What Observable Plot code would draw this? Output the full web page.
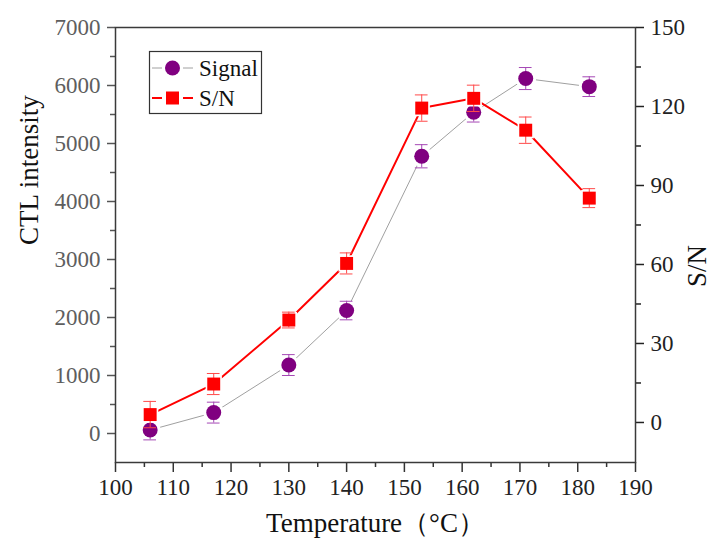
<!DOCTYPE html>
<html>
<head>
<meta charset="utf-8">
<script src="https://cdn.jsdelivr.net/npm/d3@7"></script>
<script src="https://cdn.jsdelivr.net/npm/@observablehq/plot@0.6"></script>
<style>
  html, body { margin: 0; padding: 0; background: #fff; }
  #wrap { position: relative; width: 711px; height: 548px; }
  #legend { position: absolute; left: 0; top: 0; }
  svg, svg text { font-family: "Liberation Serif", "Times New Roman", "DejaVu Serif", serif !important; }
</style>
</head>
<body>
<div id="wrap"></div>
<script>
const temps = [106, 117, 130, 140, 153, 162, 171, 182];
const signal = [60, 360, 1180, 2120, 4780, 5540, 6120, 5980];
const signalErr = [170, 180, 180, 160, 200, 170, 190, 170];
const snRatio = [3, 14.6, 38.9, 60.4, 119.4, 123.1, 111, 85.2];
const snErr = [5, 4, 3, 4, 5, 5, 5, 3.6];

const xTicks = [100, 110, 120, 130, 140, 150, 160, 170, 180, 190];
const xMinor = [105, 115, 125, 135, 145, 155, 165, 175, 185];
const leftTicks = [0, 1000, 2000, 3000, 4000, 5000, 6000, 7000];
const leftMinor = [500, 1500, 2500, 3500, 4500, 5500, 6500];
const rightTicks = [0, 30, 60, 90, 120, 150];
const rightMinor = [15, 45, 75, 105, 135];

const leftDomain = [-500, 7000];
const rightDomain = [-15.2, 150];
const toLeft = v => leftDomain[0] + (v - rightDomain[0]) * (leftDomain[1] - leftDomain[0]) / (rightDomain[1] - rightDomain[0]);

const sigRows = temps.map((t, i) => ({t, v: signal[i], lo: signal[i] - signalErr[i], hi: signal[i] + signalErr[i]}));
const snRows = temps.map((t, i) => ({t, v: toLeft(snRatio[i]), lo: toLeft(snRatio[i] - snErr[i]), hi: toLeft(snRatio[i] + snErr[i])}));

const PURPLE = "#800080", PURPLE_ERR = "#a548b5", RED = "#ff0000", RED_ERR = "#ff4a4a", GRAY = "#a0a0a0";
const capHalf = 1.1;
const FONT = "'Liberation Serif', 'Times New Roman', 'DejaVu Serif', serif";

function errMarks(rows, color) {
  return [
    Plot.ruleX(rows, {x: "t", y1: "lo", y2: "hi", stroke: color, strokeWidth: 1}),
    Plot.ruleY(rows, {y: "lo", x1: d => d.t - capHalf, x2: d => d.t + capHalf, stroke: color, strokeWidth: 1}),
    Plot.ruleY(rows, {y: "hi", x1: d => d.t - capHalf, x2: d => d.t + capHalf, stroke: color, strokeWidth: 1})
  ];
}

const chart = Plot.plot({
  width: 711,
  height: 548,
  marginLeft: 115,
  marginRight: 76,
  marginTop: 27,
  marginBottom: 86,
  style: {fontFamily: FONT, background: "#fff", overflow: "visible"},
  x: {domain: [100, 190]},
  y: {domain: leftDomain},
  marks: [
    Plot.axisX(xTicks, {anchor: "bottom", tickSize: 10, tickPadding: 6, fontSize: 23, color: "#222", stroke: "#333", strokeWidth: 1.5, tickFormat: d => String(d), label: null}),
    Plot.axisX(xMinor, {anchor: "bottom", tickSize: 5, tickFormat: () => "", stroke: "#333", strokeWidth: 1.5, label: null}),
    Plot.axisY(leftTicks, {anchor: "left", tickSize: 8, tickPadding: 7, fontSize: 23, color: "#5e5e5e", stroke: "#555", strokeWidth: 1.5, tickFormat: d => String(d), label: null}),
    Plot.axisY(leftMinor, {anchor: "left", tickSize: 5, tickFormat: () => "", stroke: "#555", strokeWidth: 1.5, label: null}),
    Plot.axisY(rightTicks.map(toLeft), {anchor: "right", tickSize: 8, tickPadding: 7, fontSize: 23, color: "#222", stroke: "#222", strokeWidth: 1.5, tickFormat: (d, i) => String(rightTicks[i]), label: null}),
    Plot.axisY(rightMinor.map(toLeft), {anchor: "right", tickSize: 5, tickFormat: () => "", stroke: "#222", strokeWidth: 1.5, label: null}),
    Plot.frame({stroke: "#3a3a3a", strokeWidth: 1.5}),
    Plot.text(["CTL intensity"], {frameAnchor: "left", text: d => d, rotate: -90, dx: -86, fontSize: 27, fill: "#111"}),
    Plot.text(["S/N"], {frameAnchor: "right", text: d => d, rotate: -90, dx: 62, fontSize: 27, fill: "#111"}),
    Plot.text(["Temperature（°C）"], {frameAnchor: "bottom", text: d => d, dy: 69, fontSize: 27, fill: "#111"}),
    Plot.line(sigRows, {x: "t", y: "v", stroke: GRAY, strokeWidth: 1}),
    Plot.dot(sigRows, {x: "t", y: "v", r: 10.5, fill: "white", stroke: "none"}),
    ...errMarks(sigRows, PURPLE_ERR),
    Plot.dot(sigRows, {x: "t", y: "v", r: 7.5, fill: PURPLE, stroke: "none"}),
    Plot.line(snRows, {x: "t", y: "v", stroke: RED, strokeWidth: 2}),
    Plot.dot(snRows, {x: "t", y: "v", r: 9.2, symbol: "square", fill: "white", stroke: "none"}),
    ...errMarks(snRows, RED_ERR),
    Plot.dot(snRows, {x: "t", y: "v", r: 7.3, symbol: "square", fill: RED, stroke: "none"})
  ]
});

const wrap = document.getElementById("wrap");
wrap.appendChild(chart);

const legendItems = [
  {label: "Signal", line: GRAY, lineWidth: 1, color: PURPLE, symbol: d3.symbolCircle, size: Math.PI * 7.5 * 7.5},
  {label: "S/N", line: RED, lineWidth: 2, color: RED, symbol: d3.symbolSquare, size: 13 * 13}
];
const lg = d3.select(wrap).append("svg")
  .attr("id", "legend").attr("width", 711).attr("height", 548)
  .style("font-family", FONT);
lg.append("rect").attr("x", 149.5).attr("y", 51.5).attr("width", 112).attr("height", 62)
  .attr("fill", "white").attr("stroke", "#333").attr("stroke-width", 1.2);
legendItems.forEach((it, i) => {
  const y = 68 + i * 30;
  const g = lg.append("g");
  g.append("line").attr("x1", 152).attr("x2", 162).attr("y1", y).attr("y2", y).attr("stroke", it.line).attr("stroke-width", it.lineWidth);
  g.append("line").attr("x1", 183).attr("x2", 193).attr("y1", y).attr("y2", y).attr("stroke", it.line).attr("stroke-width", it.lineWidth);
  g.append("path").attr("d", d3.symbol(it.symbol, it.size)()).attr("transform", `translate(172.5,${y})`).attr("fill", it.color);
  g.append("text").attr("x", 199).attr("y", y + 8).attr("font-size", 23).attr("fill", "#111").text(it.label);
});
</script>
</body>
</html>
